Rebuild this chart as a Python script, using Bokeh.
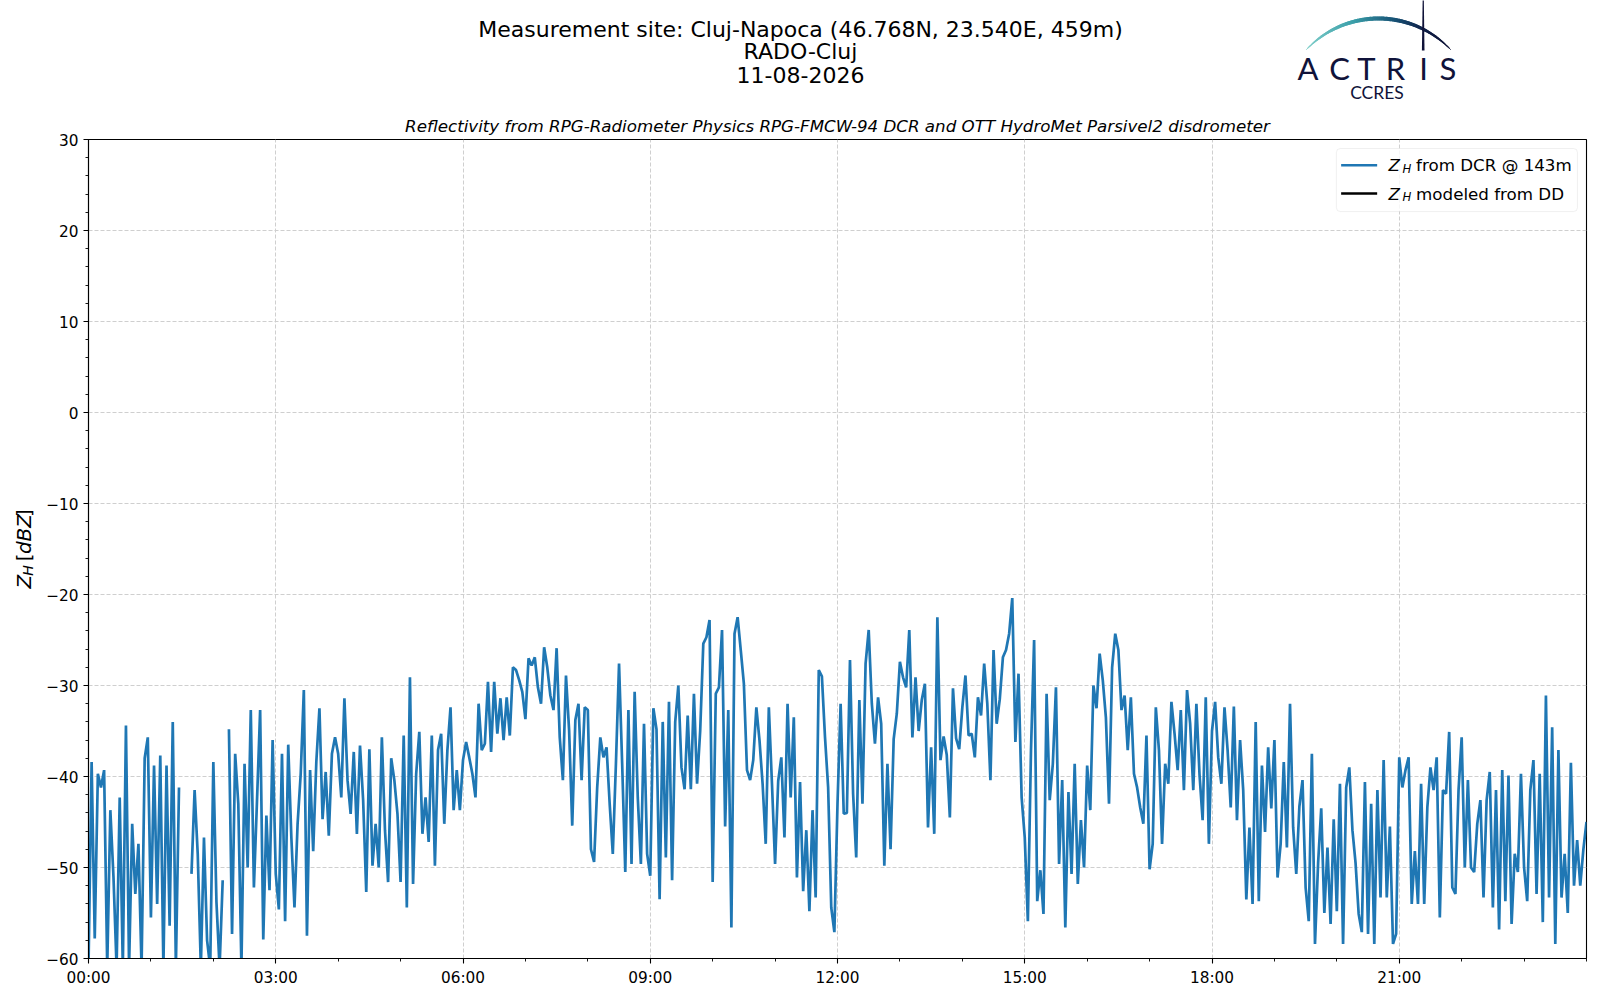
import numpy as np
from bokeh.plotting import figure
from bokeh.models import Range1d, FixedTicker, Label, BoxAnnotation, ColumnDataSource
from bokeh.layouts import column, row
from bokeh.embed import file_html
from bokeh.resources import INLINE
from bokeh.core.properties import value

nan = float("nan")

# ---------------- texts ----------------
title_lines = ["Measurement site: Cluj-Napoca (46.768N, 23.540E, 459m)", "RADO-Cluj", "11-08-2026"]
subtitle = "Reflectivity from RPG-Radiometer Physics RPG-FMCW-94 DCR and OTT HydroMet Parsivel2 disdrometer"
legend_rest = ["from DCR @ 143m", "modeled from DD"]
legend_colors = ["#1f77b4", "#000000"]
logo_letters = ["A", "C", "T", "R", "I", "S"]
logo_sub = "CCRES"

x_tick_hours = [0, 3, 6, 9, 12, 15, 18, 21]
x_tick_labels = ["00:00", "03:00", "06:00", "09:00", "12:00", "15:00", "18:00", "21:00"]
y_ticks = [-60, -50, -40, -30, -20, -10, 0, 10, 20, 30]
y_tick_labels = ["\u221260", "\u221250", "\u221240", "\u221230", "\u221220", "\u221210", "0", "10", "20", "30"]

# ---------------- data: Z_H from DCR (dBZ), one value every 3 minutes ----------------
sample_minutes = 3
zh_00_04 = [
    -61, -38.4, -57.8, -39.7, -41.2, -39.3, -61, -43.7, -51, -61,
    -42.3, -61, -34.4, -61, -45.2, -52.9, -47.4, -61, -38, -35.7,
    -55.5, -38.8, -54, -37.7, -61, -38.8, -56.4, -34, -61, -41.2,
    nan, nan, nan, -50.7, -41.5, -48.5, -61, -46.7, -58, -61,
    -38.4, -53.8, -61, -51.4, nan, -34.8, -57.3, -37.5, -43, -61,
    -38.6, -50, -32.7, -52.2, -42.6, -32.7, -57.9, -44.3, -52.5, -36,
    -50.7, -54.6, -37.5, -55.9, -36.5, -46.7, -54.4, -45.2, -39.7, -30.5,
    -57.5, -39.3, -48.2, -38.4, -32.5, -44.7, -39.5, -46.5, -37.5, -35.7,
]
zh_04_08 = [
    -37.5, -42.3, -31.4, -40.4, -44.1, -37.3, -46.3, -36.6, -42.6, -52.7,
    -37, -49.8, -45.2, -50, -35.7, -45.9, -51.6, -38, -40.4, -44.1,
    -51.6, -35.5, -54.4, -29.1, -51.8, -39.7, -35.1, -46.3, -42.3, -47.2,
    -35.5, -49.8, -37.1, -35.3, -45.2, -37.1, -32.4, -43.7, -39.3, -43.7,
    -38.2, -36.2, -37.9, -39.7, -42.3, -32, -37.1, -36.4, -29.6, -37.3,
    -29.6, -35.3, -31.4, -36, -31.3, -35.5, -28, -28.3, -29.4, -30.7,
    -33.7, -27, -27.8, -26.9, -30.2, -32, -25.8, -28, -31.1, -32.7,
    -25.9, -35.7, -40.4, -28.9, -34.9, -45.4, -33.8, -32, -40.4, -32.4,
]
zh_08_12 = [
    -32.7, -48, -49.4, -41.2, -35.7, -37.9, -36.8, -43, -48.5, -38.6,
    -27.6, -38.6, -50.5, -32.7, -49.6, -30.7, -42.3, -49.6, -34.2, -48.5,
    -50.9, -32.5, -34.8, -53.5, -34, -48.9, -31.8, -51.4, -34, -30,
    -39, -41.4, -33.3, -41.4, -30.9, -40.8, -35, -25.4, -24.7, -22.8,
    -51.6, -30.9, -30.2, -23.9, -45.5, -32.7, -56.6, -24.3, -22.5, -26.1,
    -29.8, -39.3, -40.4, -38.2, -32.4, -36, -40.8, -47.4, -32.4, -40.8,
    -49.6, -40.5, -37.9, -46.7, -32, -42.3, -33.5, -51.1, -40.6, -52.6,
    -45.9, -54.8, -43.7, -53.3, -28.3, -29, -35.7, -41.2, -54.4, -57.1,
]
zh_12_16 = [
    -43, -32, -44.1, -44, -27.2, -41.9, -48.9, -31.6, -43, -27.6,
    -23.9, -32, -36.4, -31.3, -34.2, -49.8, -38.6, -48, -35.9, -33.1,
    -27.4, -29.1, -30.2, -23.9, -35.7, -29.1, -35, -31.6, -29.8, -45.6,
    -36.8, -46.3, -22.5, -38.2, -35.6, -37.6, -44.5, -30.3, -35.8, -37,
    -32.4, -28.9, -35.5, -35.3, -37.9, -31.3, -33.3, -27.6, -32, -40.4,
    -26.1, -34.2, -31.5, -26.9, -26.1, -24.3, -20.4, -36.2, -28.7, -42.3,
    -46.7, -55.9, -37.1, -25, -53.7, -50.3, -55.1, -30.9, -42.6, -38.6,
    -30.2, -49.6, -40.4, -56.6, -41.7, -50.7, -38.6, -51.8, -44.8, -50,
]
zh_16_20 = [
    -38.8, -43.7, -30, -32.5, -26.5, -29.4, -33.5, -43, -28, -24.3,
    -26.1, -32.7, -31.1, -37.1, -31.3, -39.7, -41.2, -43.4, -45.2, -35.5,
    -50.2, -47.4, -32.4, -37.1, -47.4, -38.6, -40.8, -31.8, -35.3, -39.3,
    -32.7, -41.5, -30.5, -34.2, -41.5, -32, -39.8, -44.8, -31.3, -47.4,
    -35, -31.8, -37.9, -40.8, -32.4, -37.1, -43.4, -32.3, -44.8, -36,
    -41.5, -53.5, -45.6, -54, -34, -53.7, -38.8, -46.1, -36.8, -43.5,
    -36, -51.1, -47.4, -38.4, -47.8, -32, -45.6, -50.7, -43.3, -40.4,
    -52.2, -55.9, -37.5, -58.4, -49.5, -43.5, -55, -47.8, -56.2, -44.7,
]
zh_20_24 = [
    -54.8, -40.8, -58.4, -41.2, -39, -45.9, -49.5, -55.1, -57.1, -40.6,
    -57.3, -43, -58.4, -41.5, -53.3, -38.2, -53.3, -45.5, -58.4, -57.3,
    -37.9, -41.2, -39.3, -37.9, -54, -48.2, -54, -40.8, -54, -43.4,
    -39, -41.5, -37.9, -55.5, -41.5, -41.9, -35.1, -52.2, -52.9, -41.5,
    -35.7, -50, -40.4, -50, -50.5, -45.2, -42.6, -53.3, -42.6, -39.5,
    -54.4, -41.5, -56.8, -39.3, -53.7, -39.9, -56.2, -48.5, -50.5, -39.7,
    -50, -53.7, -41.5, -38.2, -52.9, -39.7, -56, -31.1, -53.3, -34.6,
    -58.4, -37.1, -53.3, -48.5, -55, -38.5, -52, -47, -52, -48, -45,
]

zh_dcr = np.array(zh_00_04 + zh_04_08 + zh_08_12 + zh_12_16 + zh_16_20 + zh_20_24, dtype=float)
hours = np.arange(len(zh_dcr)) * sample_minutes / 60.0

FONT = "DejaVu Sans"
C0 = "#1f77b4"
NAVY = "#10133a"

TOTAL_W = 1592
HEAD_H = 109
MAIN_H = 883
YLAB_W = 40


def blank_fig(w, hgt):
    f = figure(width=w, height=hgt, x_range=Range1d(0, w), y_range=Range1d(0, hgt),
               output_backend="svg", toolbar_location=None, min_border=0,
               x_axis_type=None, y_axis_type=None)
    f.outline_line_color = None
    f.background_fill_color = "white"
    f.border_fill_color = "white"
    return f


# ---------------- header (titles + logo); y measured upward from header bottom ----------------
h = blank_fig(TOTAL_W, HEAD_H)
h.text(x=[800, 800, 800], y=[80.4, 58, 34.5], text=title_lines,
       text_font=value(FONT), text_font_size="22px", text_align="center",
       text_baseline="middle", text_color="black")

# logo arc with colour gradient
cx, cy, r = 1378.0, -8.1, 99.1
t = np.linspace(-0.8135, 0.8135, 90)
ax = cx + r * np.sin(t)
ay = cy + r * np.cos(t)
s = (t[:-1] + t[1:]) / 2
s = (s - s.min()) / (s.max() - s.min())
stops = [(0.0, (130, 208, 203)), (0.35, (60, 160, 170)), (0.6, (25, 85, 120)),
         (0.8, (16, 32, 72)), (1.0, (12, 16, 52))]
sp = [a for a, _ in stops]
cols = []
for v in s:
    rr = np.interp(v, sp, [c[1][0] for c in stops])
    gg = np.interp(v, sp, [c[1][1] for c in stops])
    bb = np.interp(v, sp, [c[1][2] for c in stops])
    cols.append("#%02x%02x%02x" % (int(rr), int(gg), int(bb)))
widths = 0.8 + 3.2 * np.sin(np.pi * s) ** 0.8
h.segment(x0=ax[:-1], y0=ay[:-1], x1=ax[1:], y1=ay[1:], line_color=cols,
          line_width=widths, line_cap="round")
# vertical stroke
h.patch(x=[1421.4, 1424.0, 1423.2, 1422.3], y=[59, 59, 120, 120], fill_color="#0f1238",
        line_color=None)
h.text(x=[1307.5, 1339, 1366, 1395, 1423, 1447.5], y=[42] * 6, text=logo_letters,
       text_font=value("Lato"), text_font_size="31px", text_align="center",
       text_baseline="middle", text_color=NAVY)
h.text(x=[1376.5], y=[16.8], text=[logo_sub], text_font=value("Lato"),
       text_font_size="17.5px", text_align="center", text_baseline="middle",
       text_color=NAVY)

# ---------------- y-axis label strip; y measured upward from strip bottom ----------------
yl = blank_fig(YLAB_W, MAIN_H)
ylab_text = ["Z", "H", "[", "dBZ", "]"]
ylab_style = ["italic", "italic", "normal", "italic", "normal"]
ylab_size = ["20px", "14px", "20px", "20px", "20px"]
ylab_x = [23.0, 27.8, 23.0, 23.0, 23.0]
ylab_y = [399.0, 412.7, 428.2, 436.0, 476.1]
for i in range(len(ylab_text)):
    yl.text(x=[ylab_x[i]], y=[ylab_y[i]], text=[ylab_text[i]], angle=np.pi / 2,
            text_font=value(FONT), text_font_size=ylab_size[i],
            text_font_style=ylab_style[i], text_align="left",
            text_baseline="middle", text_color="black")

# ---------------- main plot ----------------
p = figure(width=TOTAL_W - YLAB_W, height=MAIN_H, x_range=Range1d(0, 24), y_range=Range1d(-60, 30),
           output_backend="svg", toolbar_location=None,
           min_border_left=48, min_border_right=6, min_border_top=20, min_border_bottom=34)
p.background_fill_color = "white"
p.border_fill_color = "white"
p.outline_line_color = "black"
p.outline_line_width = 1.1
p.outline_line_alpha = 1

p.title.text = subtitle
p.title.align = "center"
p.title.text_font = FONT
p.title.text_font_size = "16.7px"
p.title.text_font_style = "italic"
p.title.text_color = "black"
p.title.standoff = 8

p.xaxis.ticker = FixedTicker(ticks=x_tick_hours, minor_ticks=list(range(0, 25)))
p.xaxis.major_label_overrides = {k: v for k, v in zip(x_tick_hours, x_tick_labels)}
p.yaxis.ticker = FixedTicker(ticks=y_ticks, minor_ticks=list(range(-60, 31, 2)))
p.yaxis.major_label_overrides = {k: v for k, v in zip(y_ticks, y_tick_labels)}
for axis in (p.xaxis, p.yaxis):
    axis.major_label_text_font = FONT
    axis.major_label_text_font_size = "15.3px"
    axis.major_label_text_color = "black"
    axis.axis_line_color = "black"
    axis.axis_line_width = 1.1
    axis.major_tick_line_color = "black"
    axis.minor_tick_line_color = "black"
    axis.major_tick_line_width = 1.1
    axis.minor_tick_line_width = 0.9
    axis.major_tick_in = 0
    axis.major_tick_out = 5
    axis.minor_tick_in = 0
    axis.minor_tick_out = 3
    axis.major_label_standoff = 5

for g in (p.xgrid, p.ygrid):
    g.grid_line_color = "#cfcfcf"
    g.grid_line_dash = "4 2"
    g.grid_line_width = 1

src = ColumnDataSource(data=dict(hours=hours, zh=zh_dcr))
p.line("hours", "zh", source=src, line_color=C0, line_width=2.7)

# legend
p.add_layout(BoxAnnotation(left=19.993, right=23.855, bottom=22.08, top=29.01,
                           fill_color="white", fill_alpha=0.8, line_color="#cccccc",
                           line_width=1, border_radius=4))
row_y = [27.17, 24.06]
for i in range(2):
    p.add_layout(BoxAnnotation(left=20.069, right=20.646, bottom=row_y[i] - 0.14,
                               top=row_y[i] + 0.14, fill_color=legend_colors[i], fill_alpha=1,
                               line_color=None))
    p.add_layout(Label(x=20.827, y=row_y[i], text="Z", text_align="left",
                       text_baseline="middle", text_font=FONT, text_font_size="16.7px",
                       text_font_style="italic", text_color="black"))
    p.add_layout(Label(x=21.051, y=row_y[i] - 0.38, text="H", text_align="left",
                       text_baseline="middle", text_font=FONT, text_font_size="11.7px",
                       text_font_style="italic", text_color="black"))
    p.add_layout(Label(x=21.27, y=row_y[i], text=legend_rest[i], text_align="left",
                       text_baseline="middle", text_font=FONT, text_font_size="16.7px",
                       text_font_style="normal", text_color="black"))

layout = column(h, row(yl, p))
open("out.html", "w").write(file_html(layout, INLINE))
